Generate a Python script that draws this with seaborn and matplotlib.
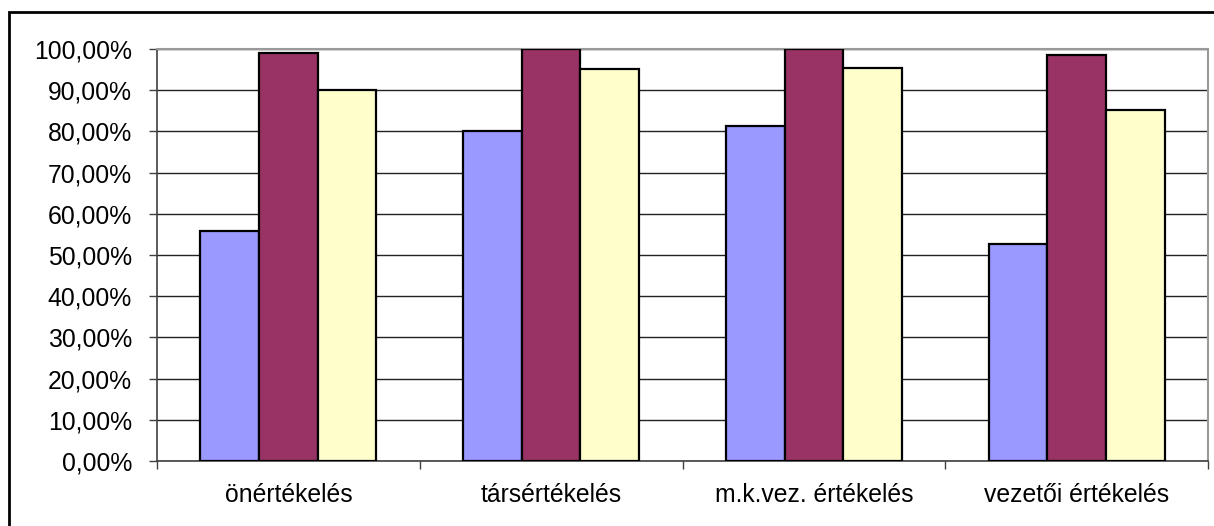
import matplotlib
matplotlib.use("Agg")
import matplotlib.pyplot as plt
import seaborn as sns
import pandas as pd
from matplotlib.patches import Rectangle
from matplotlib.ticker import FuncFormatter, FixedLocator

categories = ["önértékelés", "társértékelés", "m.k.vez. értékelés", "vezetői értékelés"]
series_names = ["A", "B", "C"]
series_a = [55.8, 80.0, 81.2, 52.7]
series_b = [99.0, 100.0, 100.0, 98.6]
series_c = [90.0, 95.1, 95.5, 85.2]
colors = ["#9999FF", "#993366", "#FFFFCC"]
y_ticks = [0, 10, 20, 30, 40, 50, 60, 70, 80, 90, 100]

rows = []
for name, vals in zip(series_names, [series_a, series_b, series_c]):
    for c, v in zip(categories, vals):
        rows.append({"cat": c, "series": name, "value": v})
df = pd.DataFrame(rows)

sns.set_theme(style="white")
plt.rcParams["font.family"] = ["Liberation Sans", "DejaVu Sans"]

W, H = 1214, 526
fig = plt.figure(figsize=(W / 100, H / 100), dpi=100)
ax = fig.add_axes([157 / W, 1 - 461 / H, (1208 - 157) / W, (461 - 49) / H])

sns.barplot(data=df, x="cat", y="value", hue="series", order=categories,
            hue_order=series_names, palette=colors, width=0.67,
            edgecolor="black", linewidth=1.6, saturation=1, legend=False, ax=ax,
            errorbar=None, zorder=3)

ax.set_ylim(0, 100)
ax.set_xlim(-0.5, len(categories) - 0.5)
ax.set_yticks(y_ticks)
ax.yaxis.set_major_formatter(FuncFormatter(lambda v, p: f"{v:.2f}%".replace(".", ",")))
ax.grid(axis="y", color="#222222", linewidth=1.0, zorder=0)
ax.set_axisbelow(True)
ax.set_xlabel("")
ax.set_ylabel("")

ax.tick_params(axis="y", which="major", direction="out", length=6, width=1,
               color="#404040", pad=12, labelsize=17.8, labelcolor="black", left=True)
ax.xaxis.set_minor_locator(FixedLocator([i - 0.5 for i in range(len(categories) + 1)]))
ax.tick_params(axis="x", which="major", length=0, pad=16, labelsize=17.8, labelcolor="black")
ax.tick_params(axis="x", which="minor", direction="out", length=6, width=1,
               color="#404040", bottom=True)

for s in ["left", "bottom"]:
    ax.spines[s].set_color("#404040")
    ax.spines[s].set_linewidth(1.2)
for s in ["top", "right"]:
    ax.spines[s].set_color("#999999")
    ax.spines[s].set_linewidth(1.5)

fig.patches.append(Rectangle((9 / W, -0.05), 1.1, 1 - 12 / H + 0.05,
                             transform=fig.transFigure, fill=False,
                             edgecolor="black", linewidth=2.0))

fig.savefig("out.png", dpi=100, facecolor="white")
